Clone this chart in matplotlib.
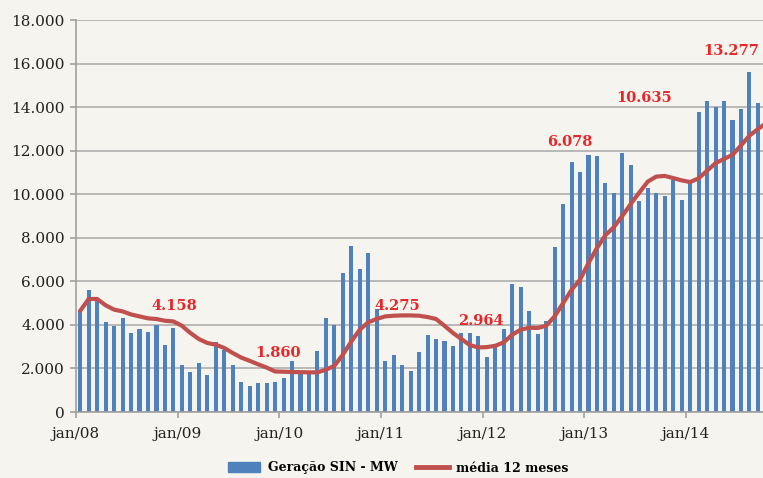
import numpy as np
import matplotlib
matplotlib.use("Agg")
import matplotlib.pyplot as plt
from matplotlib.transforms import ScaledTranslation
from matplotlib.patches import Patch
from matplotlib.lines import Line2D

# Geração mensal (MW), jan/08 .. set/14
geracao = [
    4700, 5600, 5100, 4130, 3960, 4310, 3630, 3820, 3670, 4010, 3090, 3840,   # 2008
    2160, 1820, 2250, 1700, 3210, 2860, 2140, 1360, 1210, 1330, 1330, 1360,   # 2009
    1560, 2320, 1790, 1820, 2810, 4310, 4010, 6380, 7600, 6580, 7300, 4730,   # 2010
    2350, 2630, 2140, 1860, 2740, 3550, 3350, 3260, 3010, 3630, 3650, 3500,   # 2011
    2520, 3010, 3810, 5880, 5720, 4650, 3570, 4190, 7570, 9550, 11490, 11000, # 2012
    11810, 11770, 10530, 10040, 11870, 11350, 9670, 10280, 10050, 9900, 10660, 9730,  # 2013
    10540, 13770, 14260, 14020, 14290, 13430, 13930, 15620, 14190,           # 2014
]
# média móvel 12 meses (um ponto a mais, cortado na borda)
media12 = [
    4650, 5190, 5190, 4900, 4700, 4620, 4480, 4390, 4300, 4270, 4190, 4158,
    3960, 3630, 3350, 3170, 3090, 2940, 2710, 2500, 2350, 2190, 2040, 1860,
    1850, 1835, 1830, 1820, 1820, 1940, 2120, 2630, 3240, 3780, 4120, 4275,
    4390, 4420, 4435, 4435, 4420, 4360, 4270, 3960, 3630, 3350, 3070, 2964,
    2980, 3040, 3200, 3550, 3780, 3870, 3860, 3960, 4390, 5000, 5610, 6078,
    6840, 7530, 8120, 8490, 9010, 9560, 10080, 10580, 10810, 10840, 10740, 10635,
    10560, 10730, 11080, 11430, 11620, 11810, 12240, 12690, 12990, 13277,
]
year_labels = ["jan/08", "jan/09", "jan/10", "jan/11", "jan/12", "jan/13", "jan/14"]
# rótulos de destaque: (posição em meses, altura, texto)
destaque_x = [11.1, 23.3, 37.4, 47.3, 57.8, 66.6, 76.9]
destaque_y = [4880, 2710, 4880, 4160, 12380, 14440, 16560]
destaque_txt = ["4.158", "1.860", "4.275", "2.964", "6.078", "10.635", "13.277"]

BG = "#f5f4ee"
BLUE = "#4f81bd"
RED = "#c0504d"
GRID = "#b3b3b3"

plt.rcParams["font.family"] = "DejaVu Serif"

fig = plt.figure(figsize=(7.63, 4.78), dpi=100, facecolor=BG)
ax = fig.add_axes([76 / 763, 66 / 478, 1 - 76 / 763, 392 / 478], facecolor=BG)

x_bar = np.arange(len(geracao))
x_line = np.arange(len(media12))
ax.bar(x_bar, geracao, width=0.48, color=BLUE, zorder=2)
ax.plot(x_line, media12, color=RED, lw=3, zorder=3, solid_capstyle="round")

for xx, yy, t in zip(destaque_x, destaque_y, destaque_txt):
    ax.text(xx, yy, t, color="#e8262a", fontsize=10.5, fontweight="bold",
            ha="center", va="center", zorder=4, clip_on=False)

ax.set_xlim(-0.5, 80.6)
ax.set_ylim(0, 18000)
yt = np.arange(0, 18001, 2000)
ax.set_yticks(yt)
ax.set_yticklabels([f"{v:,}".replace(",", ".") for v in yt], fontsize=11)
ax.set_xticks(np.arange(len(year_labels)) * 12 - 0.5)
ax.set_xticklabels(year_labels, fontsize=11)
offset = ScaledTranslation(5 / 100, 0, fig.dpi_scale_trans)
for lab in ax.get_xticklabels():
    lab.set_transform(lab.get_transform() + offset)

ax.grid(axis="y", color=GRID, lw=1.3, zorder=0)
ax.set_axisbelow(True)
for s in ("top", "right"):
    ax.spines[s].set_visible(False)
for s in ("left", "bottom"):
    ax.spines[s].set_color("#a0a0a0")
    ax.spines[s].set_linewidth(1.2)
ax.tick_params(axis="both", colors="#a0a0a0", labelcolor="#222222", length=4, width=1.2)
ax.tick_params(axis="x", pad=7)
ax.tick_params(axis="y", pad=4)

handles = [Patch(color=BLUE), Line2D([], [], color=RED, lw=3.5)]
fig.legend(handles, ["Geração SIN - MW", "média 12 meses"], loc="center",
           bbox_to_anchor=(398 / 763, 1 - 468 / 478), ncol=2, frameon=False,
           prop={"size": 9, "weight": "bold"}, handlelength=2.6, handleheight=0.9,
           columnspacing=1.5, handletextpad=0.6)

fig.savefig("out.png", dpi=100, facecolor=BG)
